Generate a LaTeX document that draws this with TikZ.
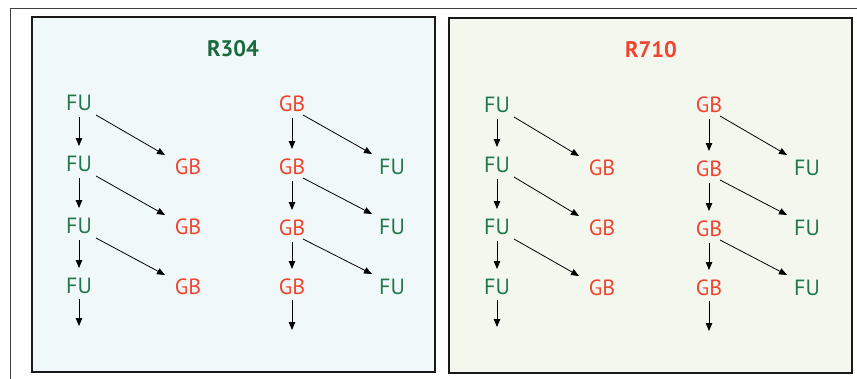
\documentclass[tikz,border=0pt]{standalone}
\usepackage{fontspec}
\setmainfont{PT Sans}
\usetikzlibrary{arrows.meta}
\definecolor{fugreen}{HTML}{22774A}
\definecolor{titlegreen}{HTML}{1A6B3C}
\definecolor{gbred}{HTML}{EF4530}
\definecolor{panelblue}{HTML}{F1F8FA}
\definecolor{panelgreen}{HTML}{F3F7EE}
\tikzset{
  lbl/.style={inner sep=0pt, font=\fontsize{22}{22}\selectfont},
  fu/.style={lbl, text=fugreen},
  gb/.style={lbl, text=gbred},
  ttl/.style={inner sep=0pt, font=\fontsize{22.5}{22.5}\selectfont\bfseries},
  panel/.style={draw=black!90, line width=1.8pt},
  arr/.style={-{Triangle[length=8pt,width=6.5pt]}, line width=0.8pt},
}
% vertical arrow between two stacked nodes
\newcommand{\vdown}[2]{\draw[arr] ([shift={(0,14)}]#1.center) -- ([shift={(0,-18)}]#2.center);}
\newcommand{\vlast}[2]{\draw[arr] ([shift={(0,13)}]#1.center) -- (#2);}
% FU -> GB diagonal
\newcommand{\dfg}[2]{\draw[arr] ([shift={(17,12)}]#1.center) -- ([shift={(-23,-12)}]#2.center);}
% GB -> FU diagonal
\newcommand{\dgf}[2]{\draw[arr] ([shift={(11,11)}]#1.center) -- ([shift={(-20,-13)}]#2.center);}
\begin{document}
\begin{tikzpicture}[x=1pt,y=-1pt]
\useasboundingbox (0,0) rectangle (857,378);
\draw[line width=1pt, black!75] (10,380) -- (10,8) -- (860,8);
% panels
\draw[panel, fill=panelblue] (32,17) rectangle (435,372);
\draw[panel, fill=panelgreen] (449,18) rectangle (852,373);
% titles
\node[ttl, text=titlegreen] (t1) at (233,49) {R304};
\node[ttl, text=gbred] (t2) at (651,50) {R710};
% left panel
\node[fu] (a1) at (79,103) {FU};
\node[fu] (a2) at (79,164) {FU};
\node[fu] (a3) at (79,226) {FU};
\node[fu] (a4) at (79,286) {FU};
\coordinate (a5) at (79,326);
\node[gb] (b2) at (188,167) {GB};
\node[gb] (b3) at (188,227) {GB};
\node[gb] (b4) at (188,287) {GB};
\node[gb] (c1) at (292,104) {GB};
\node[gb] (c2) at (292,167) {GB};
\node[gb] (c3) at (292,228) {GB};
\node[gb] (c4) at (292,287) {GB};
\coordinate (c5) at (292,330);
\node[fu] (d2) at (392,167) {FU};
\node[fu] (d3) at (392,227) {FU};
\node[fu] (d4) at (392,287) {FU};
\vdown{a1}{a2}\vdown{a2}{a3}\vdown{a3}{a4}\vlast{a4}{a5}
\vdown{c1}{c2}\vdown{c2}{c3}\vdown{c3}{c4}\vlast{c4}{c5}
\dfg{a1}{b2}\dfg{a2}{b3}\dfg{a3}{b4}
\dgf{c1}{d2}\dgf{c2}{d3}\dgf{c3}{d4}
% right panel
\begin{scope}[shift={(418,1)}]
\node[fu] (e1) at (79,104) {FU};
\node[fu] (e2) at (79,164) {FU};
\node[fu] (e3) at (79,226) {FU};
\node[fu] (e4) at (79,286) {FU};
\coordinate (e5) at (79,326);
\node[gb] (f2) at (184,167) {GB};
\node[gb] (f3) at (184,227) {GB};
\node[gb] (f4) at (184,287) {GB};
\node[gb] (g1) at (291,104) {GB};
\node[gb] (g2) at (291,168) {GB};
\node[gb] (g3) at (291,228) {GB};
\node[gb] (g4) at (291,287) {GB};
\coordinate (g5) at (291,330);
\node[fu] (h2) at (389,167) {FU};
\node[fu] (h3) at (389,227) {FU};
\node[fu] (h4) at (389,287) {FU};
\end{scope}
\vdown{e1}{e2}\vdown{e2}{e3}\vdown{e3}{e4}\vlast{e4}{e5}
\vdown{g1}{g2}\vdown{g2}{g3}\vdown{g3}{g4}\vlast{g4}{g5}
\dfg{e1}{f2}\dfg{e2}{f3}\dfg{e3}{f4}
\dgf{g1}{h2}\dgf{g2}{h3}\dgf{g3}{h4}
\end{tikzpicture}
\end{document}
